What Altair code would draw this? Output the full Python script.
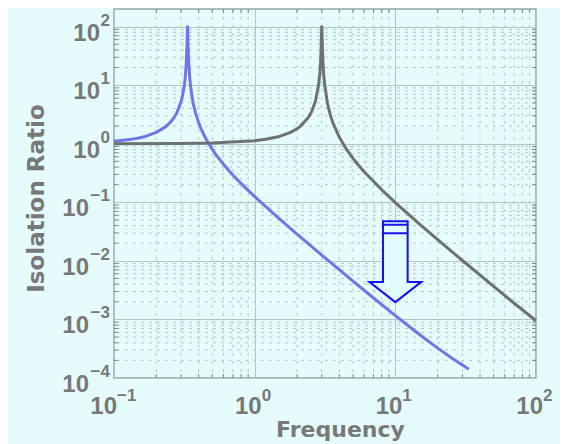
import altair as alt
import pandas as pd

# ---- data ----
blue_freq = [0.1, 0.1333, 0.15, 0.1667, 0.2, 0.2333, 0.25, 0.2667, 0.28, 0.3, 0.31, 0.3167,
             0.32, 0.325, 0.3267, 0.33, 0.3317, 0.3333, 0.335, 0.3367, 0.34, 0.345, 0.35, 0.36,
             0.3667, 0.38, 0.4, 0.4167, 0.45, 0.5, 0.5333, 0.6, 0.6667, 0.7, 0.8, 1.0, 1.5, 2.0,
             3.0, 5.0, 7.0, 10.0, 15.0, 20.0, 25.0, 33.3]
blue_ratio = [1.099, 1.19, 1.254, 1.333, 1.5625, 1.961, 2.286, 2.778, 3.397, 5.263, 7.40, 10.26,
              12.76, 20.25, 24.5, 45.0, 71.0, 100, 70.8, 44.4, 24.0, 14.04, 9.756, 6.01,
              4.762, 3.338, 2.273, 1.778, 1.216, 0.8, 0.641, 0.4464, 0.3333, 0.2933, 0.2101, 0.125,
              0.05195, 0.02857, 0.0125, 0.004514, 0.002322, 0.001161, 0.000542, 0.000324, 0.000222,
              0.0001417]

gray_freq = [0.1, 0.3, 0.5, 1.0, 1.2, 1.5, 1.8, 2.0, 2.1, 2.4, 2.55, 2.7, 2.85, 2.91, 2.94,
             2.97, 2.985, 3.0, 3.015, 3.03, 3.06, 3.09, 3.15, 3.3, 3.45, 3.6, 4.0, 4.5, 5.0, 5.4,
             6.0, 8.0, 10, 15, 20, 30, 50, 70, 100]
gray_ratio = [1.0011, 1.0101, 1.0286, 1.125, 1.19, 1.3333, 1.5625, 1.8, 1.961, 2.778, 3.604,
              5.263, 10.26, 16.7, 24.5, 45.0, 71.0, 100, 70.8, 44.4, 24.0, 16.2, 9.71, 4.762, 3.10,
              2.273, 1.286, 0.8, 0.5625, 0.4464, 0.3333, 0.1636, 0.0989, 0.04167, 0.02302, 0.01015,
              0.003663, 0.00189, 0.0009496]

x_tick_vals = [0.1, 1, 10, 100]
x_tick_exps = ["\u22121", "0", "1", "2"]
y_tick_vals = [1e-4, 1e-3, 1e-2, 1e-1, 1, 10, 100]
y_tick_exps = ["\u22124", "\u22123", "\u22122", "\u22121", "0", "1", "2"]
tick_base = "10"

arrow_pos_f = [10]
arrow_pos_v = [0.0097]

x_title = "Frequency"
y_title = "Isolation Ratio"

# minor tick / grid positions
minor_x = [k * d for d in [0.1, 1, 10] for k in range(2, 10)]
minor_y = [k * d for d in [1e-4, 1e-3, 1e-2, 1e-1, 1, 10] for k in range(2, 10)]

# ---- styles ----
W, H = 422, 369
BG = "#e6fcfc"
TXT = "#787878"
LFONT = "Liberation Sans"
TFONT = "DejaVu Sans"
GRID_MAJ = "#b3c4c4"
GRID_MIN = "#b8c6c6"
TICK = "#7c8585"

curves = pd.concat([
    pd.DataFrame({"f": blue_freq, "v": blue_ratio, "s": "blue"}),
    pd.DataFrame({"f": gray_freq, "v": gray_ratio, "s": "gray"}),
])

x_scale = alt.Scale(type="log", domain=[0.1, 100], nice=False)
y_scale = alt.Scale(type="log", domain=[1e-4, 200], nice=False)

common_axis = dict(grid=True, gridColor=GRID_MAJ, gridWidth=1, ticks=False, domain=False,
                   labels=False,
                   titleFont=TFONT, titleFontWeight="bold", titleColor=TXT)

x_axis = alt.Axis(values=x_tick_vals, title=x_title, titleX=226, titleY=58, titleFontSize=22,
                  titleBaseline="alphabetic", **common_axis)
y_axis = alt.Axis(values=y_tick_vals, title=y_title, titleX=-71, titleY=189, titleFontSize=23,
                  titleBaseline="alphabetic", **common_axis)

X = lambda: alt.X("f:Q", scale=x_scale, axis=x_axis)
Y = lambda: alt.Y("v:Q", scale=y_scale, axis=y_axis)

mx = pd.DataFrame({"f": minor_x})
my = pd.DataFrame({"v": minor_y})

grid_x = alt.Chart(mx).mark_rule(color=GRID_MIN, strokeDash=[3, 5], strokeWidth=1).encode(x=X())
grid_y = alt.Chart(my).mark_rule(color=GRID_MIN, strokeDash=[3, 5], strokeWidth=1).encode(y=Y())

tick_b = alt.Chart(mx).mark_rule(color=TICK, strokeWidth=1).encode(
    x=X(), y=alt.value(H), y2=alt.value(H - 4))
tick_t = alt.Chart(mx).mark_rule(color=TICK, strokeWidth=1).encode(
    x=X(), y=alt.value(0), y2=alt.value(4))
tick_l = alt.Chart(my).mark_rule(color=TICK, strokeWidth=1).encode(
    y=Y(), x=alt.value(0), x2=alt.value(4))
tick_r = alt.Chart(my).mark_rule(color=TICK, strokeWidth=1).encode(
    y=Y(), x=alt.value(W), x2=alt.value(W - 4))

lines = alt.Chart(curves).mark_line(strokeWidth=3, strokeJoin="round").encode(
    x=X(), y=Y(),
    color=alt.Color("s:N", scale=alt.Scale(domain=["blue", "gray"],
                                          range=["#7176e6", "#6f7171"]), legend=None),
    detail="s:N",
)

arrow_path = ("M -0.304 -1 L 0.304 -1 L 0.304 0.5 L 0.642 0.5 L 0 1 L -0.642 0.5 "
              "L -0.304 0.5 Z M -0.304 -0.91 L 0.304 -0.91 M -0.304 -0.70 L 0.304 -0.70")
arrow = alt.Chart(pd.DataFrame({"f": arrow_pos_f, "v": arrow_pos_v})).mark_point(
    shape=arrow_path, size=6561, filled=True, fill="#e2fbfb", stroke="#1414ee",
    strokeWidth=2, opacity=1, fillOpacity=1, strokeOpacity=1).encode(x=X(), y=Y())

# ---- tick labels: "10" plus a raised exponent ----
xl = pd.DataFrame({"f": x_tick_vals, "e": x_tick_exps})
yl = pd.DataFrame({"v": y_tick_vals, "e": y_tick_exps})
xl_neg, xl_pos = xl[xl.e.str.startswith("\u2212")], xl[~xl.e.str.startswith("\u2212")]
yl_neg, yl_pos = yl[yl.e.str.startswith("\u2212")], yl[~yl.e.str.startswith("\u2212")]

base_style = dict(font=LFONT, fontSize=24, fontWeight="bold", color=TXT, baseline="alphabetic")
exp_style = dict(font=LFONT, fontSize=17, fontWeight="bold", color=TXT, baseline="alphabetic")

label_layers = []
for d, shift in [(xl_neg, 3), (xl_pos, 7)]:
    label_layers.append(alt.Chart(d).mark_text(align="right", dx=shift, **base_style).encode(
        x=X(), y=alt.value(H + 36), text=alt.value(tick_base)))
    label_layers.append(alt.Chart(d).mark_text(align="left", dx=shift, **exp_style).encode(
        x=X(), y=alt.value(H + 23), text="e:N"))
for d, shift in [(yl_neg, -25), (yl_pos, -14)]:
    label_layers.append(alt.Chart(d).mark_text(align="right", dx=shift, dy=14, **base_style).encode(
        y=Y(), x=alt.value(0), text=alt.value(tick_base)))
label_layers.append(alt.Chart(yl).mark_text(align="right", dx=-4, dy=-1, **exp_style).encode(
    y=Y(), x=alt.value(0), text="e:N"))

chart = alt.layer(grid_x, grid_y, tick_b, tick_t, tick_l, tick_r, lines, arrow,
                  *label_layers).properties(
    width=W, height=H,
    autosize=alt.AutoSizeParams(type="none"),
    padding={"left": 106, "top": 1, "right": 24, "bottom": 66},
).configure(background=BG).configure_view(stroke="#98a3a3", strokeWidth=1.5)

chart.save("out.html", embed_options={"renderer": "svg", "actions": False})
